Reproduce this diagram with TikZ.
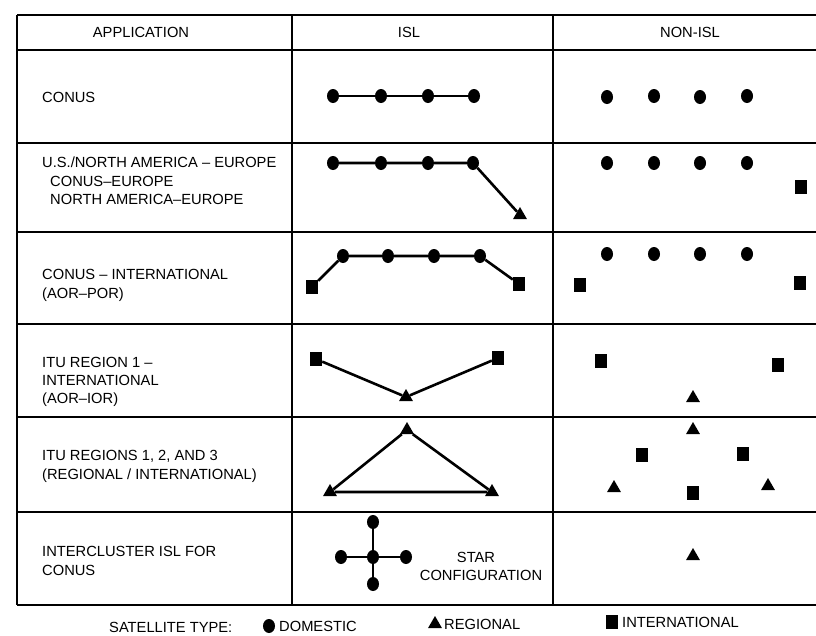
\documentclass[tikz,border=0pt]{standalone}
\usepackage{fontspec}
\setmainfont{Liberation Sans}
\usetikzlibrary{shapes.geometric}
\begin{document}
\begin{tikzpicture}[x=1pt,y=-1pt,
  dom/.style={ellipse, fill=black, inner sep=0pt, minimum width=12pt, minimum height=14pt},
  reg/.style={regular polygon, regular polygon sides=3, fill=black, inner sep=0pt, minimum size=16pt},
  intl/.style={rectangle, fill=black, inner sep=0pt, minimum width=12pt, minimum height=14pt},
  link/.style={line width=2.6pt},
  thinlink/.style={line width=1.6pt},
  rule/.style={line width=1.2pt},
  txt/.style={font=\fontsize{14.7}{17}\selectfont, inner sep=0pt, anchor=base west},
  ctxt/.style={font=\fontsize{14.7}{17}\selectfont, inner sep=0pt, anchor=base}
]
\useasboundingbox (0,0) rectangle (816,635);
\fill[white] (0,0) rectangle (816,635);

% table rules
\foreach \yy in {15,50,143,232,324,417,512,605}
  \draw[rule] (17,\yy) -- (816,\yy);
\foreach \xx in {17,292,553}
  \draw[rule] (\xx,15) -- (\xx,605);

% header
\node[ctxt] (hApp) at (141,37) {APPLICATION};
\node[ctxt] (hIsl) at (409,37) {ISL};
\node[ctxt] (hNon) at (690,37) {NON-ISL};

% application column
\node[txt] (t1) at (42,102) {CONUS};
\node[txt] (t2a) at (42,167) {U.S./NORTH AMERICA -- EUROPE};
\node[txt] (t2b) at (50,186) {CONUS--EUROPE};
\node[txt] (t2c) at (50,204) {NORTH AMERICA--EUROPE};
\node[txt] (t3a) at (42,279) {CONUS -- INTERNATIONAL};
\node[txt] (t3b) at (42,298) {(AOR--POR)};
\node[txt] (t4a) at (42,367) {ITU REGION 1 --};
\node[txt] (t4b) at (42,385) {INTERNATIONAL};
\node[txt] (t4c) at (42,403) {(AOR--IOR)};
\node[txt] (t5a) at (42,460) {ITU REGIONS 1, 2, AND 3};
\node[txt] (t5b) at (42,479) {(REGIONAL / INTERNATIONAL)};
\node[txt] (t6a) at (42,556) {INTERCLUSTER ISL FOR};
\node[txt] (t6b) at (42,575) {CONUS};

% row 1: CONUS
\node[dom] (a1) at (333,96) {};
\node[dom] (a2) at (381,96) {};
\node[dom] (a3) at (428,96) {};
\node[dom] (a4) at (474,96) {};
\draw[link] (a1) -- (a2) -- (a3) -- (a4);
\node[dom] (na1) at (607,97) {};
\node[dom] (na2) at (654,96) {};
\node[dom] (na3) at (700,97) {};
\node[dom] (na4) at (747,96) {};

% row 2: U.S./North America - Europe
\node[dom] (b1) at (333,163) {};
\node[dom] (b2) at (381,163) {};
\node[dom] (b3) at (428,163) {};
\node[dom] (b4) at (473,163) {};
\node[reg] (b5) at (520,215) {};
\draw[link] (b1) -- (b2) -- (b3) -- (b4) -- (b5);
\node[dom] (nb1) at (607,163) {};
\node[dom] (nb2) at (654,163) {};
\node[dom] (nb3) at (700,163) {};
\node[dom] (nb4) at (747,163) {};
\node[intl] (nb5) at (801,187) {};

% row 3: CONUS - International
\node[intl] (c1) at (312,287) {};
\node[dom] (c2) at (343,256) {};
\node[dom] (c3) at (388,256) {};
\node[dom] (c4) at (434,256) {};
\node[dom] (c5) at (480,256) {};
\node[intl] (c6) at (519,284) {};
\draw[link] (c1) -- (c2) -- (c3) -- (c4) -- (c5) -- (c6);
\node[dom] (nc1) at (607,254) {};
\node[dom] (nc2) at (654,254) {};
\node[dom] (nc3) at (700,254) {};
\node[dom] (nc4) at (747,254) {};
\node[intl] (nc5) at (580,285) {};
\node[intl] (nc6) at (800,283) {};

% row 4: ITU Region 1 - International
\node[intl] (d1) at (316,359) {};
\node[reg] (d2) at (406,397) {};
\node[intl] (d3) at (498,358) {};
\draw[link] (d1) -- (d2) -- (d3);
\node[intl] (nd1) at (601,361) {};
\node[intl] (nd2) at (778,365) {};
\node[reg] (nd3) at (693,398) {};

% row 5: ITU Regions 1, 2 and 3
\node[reg] (e1) at (407,430) {};
\node[reg] (e2) at (330,492) {};
\node[reg] (e3) at (492,492) {};
\draw[link] (e1) -- (e2) -- (e3) -- (e1);
\node[reg] (ne1) at (693,430) {};
\node[intl] (ne2) at (642,455) {};
\node[intl] (ne3) at (743,454) {};
\node[reg] (ne4) at (614,488) {};
\node[reg] (ne5) at (768,486) {};
\node[intl] (ne6) at (693,493) {};

% row 6: intercluster star
\node[dom] (f0) at (373,557) {};
\node[dom] (fl) at (341,557) {};
\node[dom] (fr) at (406,557) {};
\node[dom] (ft) at (373,522) {};
\node[dom] (fb) at (373,584) {};
\draw[thinlink] (fl) -- (f0) -- (fr);
\draw[thinlink] (ft) -- (f0) -- (fb);
\node[ctxt] (st1) at (476,562) {STAR};
\node[ctxt] (st2) at (481,580) {CONFIGURATION};
\node[reg] (nf1) at (693,556) {};

% legend
\node[txt] (lg0) at (109,632) {SATELLITE TYPE:};
\node[dom] (lg1) at (269,626) {};
\node[txt] (lg1t) at (279,631) {DOMESTIC};
\node[reg] (lg2) at (435,624) {};
\node[txt] (lg2t) at (444,629) {REGIONAL};
\node[intl] (lg3) at (612,622) {};
\node[txt] (lg3t) at (622,627) {INTERNATIONAL};
\end{tikzpicture}
\end{document}
